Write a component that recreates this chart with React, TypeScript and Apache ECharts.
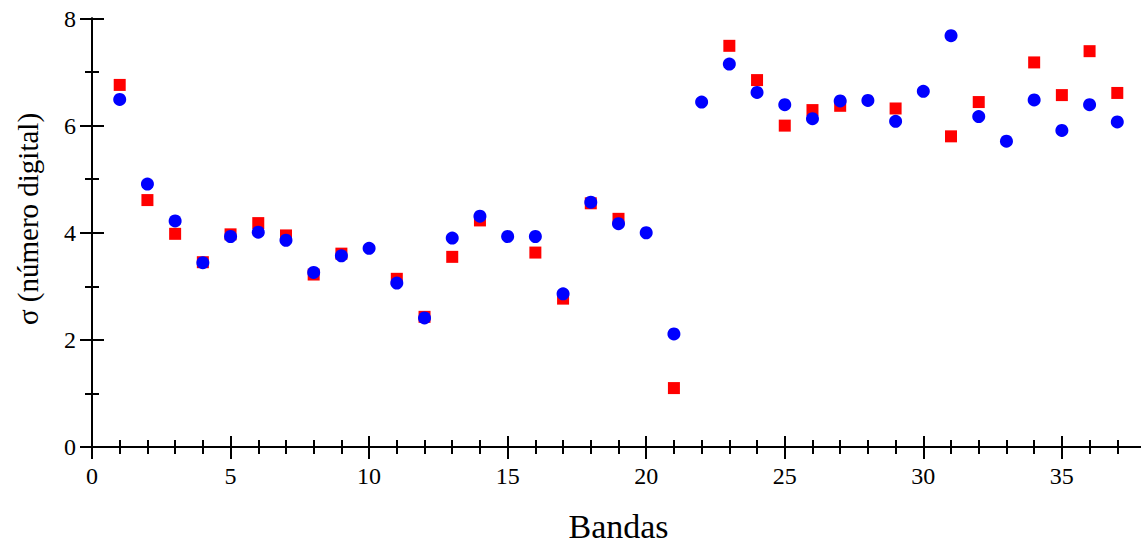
import React, { useEffect, useRef } from "react";
import * as echarts from "echarts";

const bands = [1,2,3,4,5,6,7,8,9,10,11,12,13,14,15,16,17,18,19,20,21,22,23,24,25,26,27,28,29,30,31,32,33,34,35,36,37];
const redValues: (number | null)[] = [6.76,4.61,3.98,3.45,3.97,4.18,3.95,3.22,3.61,null,3.14,2.43,3.55,4.23,null,3.63,2.77,4.55,4.26,null,1.10,null,7.49,6.85,6.00,6.29,6.37,null,6.32,null,5.80,6.44,null,7.18,6.57,7.39,6.61];
const blueValues = [6.49,4.91,4.22,3.44,3.93,4.01,3.86,3.26,3.57,3.71,3.06,2.41,3.90,4.31,3.93,3.93,2.86,4.57,4.17,4.0,2.11,6.44,7.15,6.62,6.39,6.13,6.46,6.47,6.08,6.64,7.68,6.17,5.71,6.48,5.91,6.39,6.07];
const xTickLabels = ["0","5","10","15","20","25","30","35"];
const yTickLabels = ["0","2","4","6","8"];
const xTitle = "Bandas";
const yTitle = "σ (número digital)";

const FONT = "Liberation Serif";

export default function App() {
  const ref = useRef<HTMLDivElement>(null);
  useEffect(() => {
    if (!ref.current) return;
    const chart = echarts.init(ref.current, undefined, { renderer: "svg" });
    const line = { show: true, lineStyle: { color: "#000", width: 2 } };
    const xBase = {
      type: "value" as const,
      min: 0,
      max: 38,
      interval: 5,
      splitLine: { show: false },
      axisLine: line,
    };
    const yBase = {
      type: "value" as const,
      min: 0,
      max: 8,
      interval: 2,
      splitLine: { show: false },
      axisLine: line,
    };
    const labelStyle = {
      fontFamily: FONT,
      fontSize: 24,
      color: "#000",
    };
    chart.setOption({
      animation: false,
      backgroundColor: "#fff",
      textStyle: { fontFamily: FONT, color: "#000" },
      grid: { left: 92, right: -4, top: 18.5, bottom: 97, containLabel: false, outerBoundsMode: "none" },
      graphic: [
        {
          type: "text",
          x: 28,
          y: 219,
          rotation: Math.PI / 2,
          style: {
            text: yTitle,
            fontFamily: FONT,
            fontSize: 29,
            fill: "#000",
            textAlign: "center",
            textVerticalAlign: "middle",
          },
        },
        {
          type: "text",
          x: 618.5,
          y: 543,
          style: {
            text: xTitle,
            fontFamily: FONT,
            fontSize: 34,
            fill: "#000",
            textAlign: "center",
            textVerticalAlign: "bottom",
          },
        },
      ],
      xAxis: [
        {
          ...xBase,
          position: "bottom",
          axisTick: { show: true, inside: false, length: 12, lineStyle: { color: "#000", width: 2 } },
          minorTick: { show: true, splitNumber: 5, length: 7, lineStyle: { color: "#000", width: 2 } },
          axisLabel: {
            show: true,
            margin: 17,
            ...labelStyle,
            formatter: (v: number) => (xTickLabels.includes(String(v)) ? String(v) : ""),
          },
        },
        {
          ...xBase,
          position: "bottom",
          axisTick: { show: true, inside: true, length: 11, lineStyle: { color: "#000", width: 2 } },
          minorTick: { show: true, splitNumber: 5, length: 7, lineStyle: { color: "#000", width: 2 } },
          axisLabel: { show: false },
        },
        {
          ...xBase,
          position: "top",
          axisTick: { show: true, inside: true, length: 12, lineStyle: { color: "#000", width: 2 } },
          minorTick: { show: true, splitNumber: 5, length: 7, lineStyle: { color: "#000", width: 2 } },
          axisLabel: { show: false },
        },
      ],
      yAxis: [
        {
          ...yBase,
          position: "left",
          axisTick: { show: true, inside: false, length: 10, lineStyle: { color: "#000", width: 2 } },
          minorTick: { show: true, splitNumber: 2, length: 6, lineStyle: { color: "#000", width: 2 } },
          axisLabel: {
            show: true,
            margin: 16,
            ...labelStyle,
            formatter: (v: number) => (yTickLabels.includes(String(v)) ? String(v) : ""),
          },
        },
        {
          ...yBase,
          position: "left",
          axisTick: { show: true, inside: true, length: 12, lineStyle: { color: "#000", width: 2 } },
          minorTick: { show: true, splitNumber: 2, length: 7, lineStyle: { color: "#000", width: 2 } },
          axisLabel: { show: false },
        },
        {
          ...yBase,
          position: "right",
          axisTick: { show: true, inside: true, length: 12, lineStyle: { color: "#000", width: 2 } },
          minorTick: { show: true, splitNumber: 2, length: 7, lineStyle: { color: "#000", width: 2 } },
          axisLabel: { show: false },
        },
      ],
      series: [
        {
          type: "scatter",
          xAxisIndex: 0,
          yAxisIndex: 0,
          symbol: "rect",
          symbolSize: 12,
          itemStyle: { color: "#ff0000", opacity: 1 },
          data: bands
            .map((b, i) => [b, redValues[i]])
            .filter((d) => d[1] !== null),
          z: 2,
        },
        {
          type: "scatter",
          xAxisIndex: 0,
          yAxisIndex: 0,
          symbol: "circle",
          symbolSize: 13,
          itemStyle: { color: "#0000ff", opacity: 1 },
          data: bands.map((b, i) => [b, blueValues[i]]),
          z: 3,
        },
      ],
    });
    return () => chart.dispose();
  }, []);
  return (
    <div
      ref={ref}
      style={{ position: "absolute", left: 0, top: 0, width: 1141, height: 544, background: "#fff" }}
    />
  );
}
